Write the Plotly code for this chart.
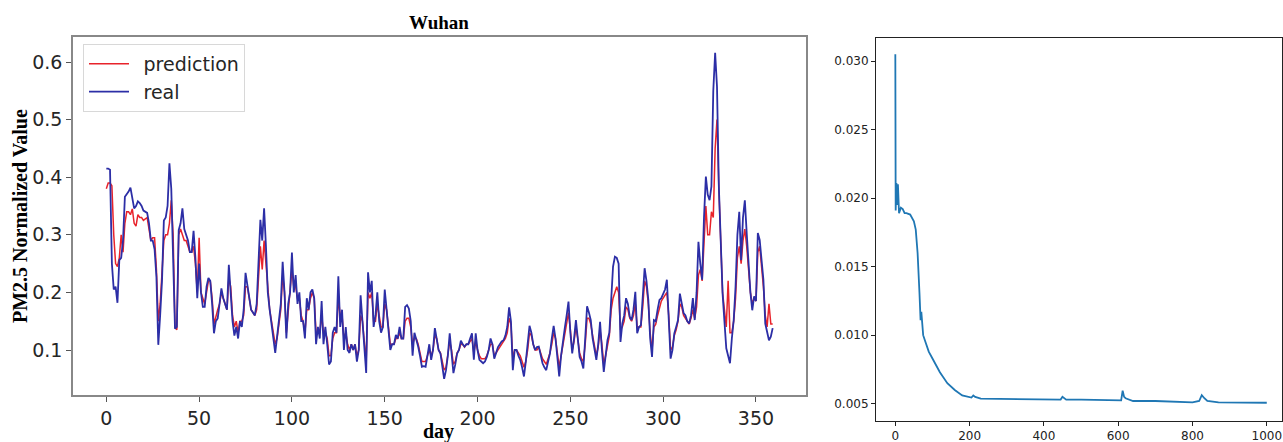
import plotly.graph_objects as go

# ---------------- data ----------------
real = [
    0.415, 0.415, 0.413, 0.25, 0.205, 0.21, 0.182, 0.256, 0.26, 0.29,
    0.366, 0.37, 0.375, 0.382, 0.36, 0.346, 0.35, 0.358, 0.355, 0.35,
    0.342, 0.34, 0.338, 0.32, 0.29, 0.29, 0.275, 0.227, 0.109, 0.16,
    0.22, 0.325, 0.33, 0.35, 0.424, 0.38, 0.27, 0.137, 0.14, 0.308,
    0.32, 0.346, 0.31, 0.3, 0.29, 0.27, 0.27, 0.307, 0.26, 0.19,
    0.25, 0.2, 0.175, 0.175, 0.21, 0.225, 0.22, 0.18, 0.129, 0.15,
    0.155, 0.18, 0.207, 0.19, 0.18, 0.17, 0.248, 0.2, 0.15, 0.125,
    0.14, 0.12, 0.15, 0.14, 0.17, 0.234, 0.21, 0.19, 0.17, 0.165,
    0.16, 0.18, 0.25, 0.326, 0.29, 0.346, 0.28, 0.2, 0.17, 0.14,
    0.12, 0.095, 0.12, 0.15, 0.18, 0.253, 0.2, 0.12, 0.18, 0.2,
    0.269, 0.2, 0.23, 0.18, 0.2, 0.15, 0.15, 0.12, 0.19, 0.17,
    0.2, 0.205, 0.19, 0.11, 0.14, 0.12, 0.185, 0.11, 0.14, 0.11,
    0.075, 0.08, 0.13, 0.14, 0.13, 0.228, 0.14, 0.17, 0.1, 0.14,
    0.1, 0.095, 0.11, 0.1, 0.11, 0.08, 0.1, 0.195, 0.15, 0.1,
    0.06, 0.235, 0.2, 0.22, 0.14, 0.16, 0.2, 0.15, 0.13, 0.14,
    0.205, 0.17, 0.13, 0.1, 0.11, 0.11, 0.126, 0.12, 0.14, 0.12,
    0.12, 0.175, 0.178, 0.172, 0.15, 0.09, 0.13, 0.12, 0.106, 0.09,
    0.071, 0.072, 0.071, 0.09, 0.11, 0.083, 0.1, 0.138, 0.12, 0.1,
    0.094, 0.07, 0.05, 0.065, 0.09, 0.129, 0.1, 0.06, 0.075, 0.094,
    0.1, 0.116, 0.11, 0.106, 0.11, 0.11, 0.12, 0.129, 0.083, 0.129,
    0.1, 0.083, 0.08, 0.077, 0.08, 0.088, 0.1, 0.12, 0.11, 0.085,
    0.095, 0.105, 0.11, 0.115, 0.117, 0.125, 0.14, 0.174, 0.15, 0.065,
    0.1, 0.1, 0.09, 0.083, 0.07, 0.054, 0.08, 0.11, 0.142, 0.13,
    0.11, 0.1, 0.105, 0.106, 0.09, 0.077, 0.07, 0.065, 0.08, 0.094,
    0.12, 0.142, 0.12, 0.08, 0.054, 0.09, 0.12, 0.138, 0.16, 0.184,
    0.13, 0.094, 0.12, 0.152, 0.12, 0.088, 0.08, 0.068, 0.12, 0.176,
    0.165, 0.152, 0.12, 0.1, 0.083, 0.11, 0.149, 0.1, 0.062, 0.09,
    0.117, 0.13, 0.2, 0.245, 0.262, 0.26, 0.25, 0.114, 0.146, 0.16,
    0.19, 0.18, 0.158, 0.152, 0.17, 0.201, 0.129, 0.14, 0.143, 0.19,
    0.242, 0.22, 0.187, 0.12, 0.088, 0.152, 0.15, 0.17, 0.187, 0.19,
    0.198, 0.205, 0.222, 0.15, 0.085, 0.1, 0.129, 0.14, 0.152, 0.198,
    0.18, 0.164, 0.16, 0.15, 0.146, 0.16, 0.19, 0.152, 0.2, 0.288,
    0.25, 0.222, 0.33, 0.401, 0.37, 0.36, 0.384, 0.55, 0.616, 0.557,
    0.384, 0.28, 0.198, 0.15, 0.103, 0.09, 0.077, 0.12, 0.152, 0.21,
    0.3, 0.34, 0.256, 0.33, 0.36, 0.303, 0.25, 0.2, 0.169, 0.193,
    0.185, 0.303, 0.291, 0.26, 0.222, 0.146, 0.13, 0.117, 0.123, 0.138,
]

prediction = [
    0.38, 0.39, 0.39, 0.385, 0.3, 0.25, 0.245, 0.26, 0.3, 0.27,
    0.32, 0.34, 0.34, 0.335, 0.345, 0.32, 0.315, 0.335, 0.33, 0.33,
    0.325, 0.328, 0.33, 0.31, 0.29, 0.295, 0.295, 0.24, 0.15, 0.18,
    0.24, 0.29, 0.3, 0.3, 0.32, 0.36, 0.3, 0.14, 0.135, 0.3,
    0.31, 0.3, 0.29, 0.29, 0.28, 0.27, 0.27, 0.28, 0.25, 0.2,
    0.295, 0.2, 0.19, 0.18, 0.2, 0.22, 0.22, 0.19, 0.145, 0.16,
    0.17, 0.18, 0.2, 0.19, 0.18, 0.17, 0.225, 0.21, 0.16, 0.14,
    0.15, 0.13, 0.15, 0.15, 0.16, 0.21, 0.21, 0.19, 0.17, 0.165,
    0.16, 0.17, 0.22, 0.28, 0.24, 0.29, 0.25, 0.2, 0.17, 0.15,
    0.13, 0.11, 0.12, 0.15, 0.17, 0.23, 0.2, 0.13, 0.17, 0.2,
    0.24, 0.21, 0.21, 0.19, 0.19, 0.16, 0.15, 0.13, 0.17, 0.17,
    0.19, 0.2, 0.19, 0.13, 0.13, 0.13, 0.16, 0.13, 0.13, 0.12,
    0.09, 0.09, 0.12, 0.13, 0.13, 0.19, 0.16, 0.16, 0.12, 0.13,
    0.11, 0.1, 0.11, 0.1, 0.11, 0.09, 0.1, 0.16, 0.15, 0.11,
    0.08, 0.2, 0.19, 0.2, 0.15, 0.15, 0.18, 0.16, 0.14, 0.14,
    0.18, 0.17, 0.14, 0.11, 0.11, 0.11, 0.12, 0.12, 0.13, 0.12,
    0.12, 0.15, 0.155, 0.155, 0.14, 0.11, 0.12, 0.12, 0.11, 0.095,
    0.08, 0.08, 0.08, 0.09, 0.1, 0.09, 0.1, 0.125, 0.12, 0.1,
    0.095, 0.08, 0.065, 0.07, 0.09, 0.115, 0.1, 0.075, 0.08, 0.095,
    0.1, 0.11, 0.11, 0.105, 0.11, 0.11, 0.115, 0.12, 0.095, 0.115,
    0.1, 0.09, 0.085, 0.085, 0.085, 0.09, 0.1, 0.11, 0.11, 0.09,
    0.095, 0.1, 0.105, 0.11, 0.115, 0.12, 0.13, 0.155, 0.145, 0.085,
    0.1, 0.1, 0.095, 0.09, 0.08, 0.07, 0.08, 0.1, 0.13, 0.125,
    0.11, 0.1, 0.1, 0.105, 0.095, 0.085, 0.08, 0.075, 0.085, 0.095,
    0.11, 0.13, 0.12, 0.09, 0.07, 0.09, 0.11, 0.13, 0.15, 0.165,
    0.135, 0.1, 0.115, 0.14, 0.12, 0.095, 0.085, 0.08, 0.11, 0.155,
    0.155, 0.145, 0.125, 0.105, 0.09, 0.105, 0.135, 0.11, 0.075, 0.09,
    0.11, 0.125, 0.17, 0.19, 0.2, 0.21, 0.2, 0.135, 0.14, 0.15,
    0.175, 0.17, 0.155, 0.15, 0.16, 0.18, 0.14, 0.14, 0.14, 0.175,
    0.22, 0.21, 0.18, 0.13, 0.1, 0.14, 0.145, 0.16, 0.175, 0.185,
    0.19, 0.195, 0.2, 0.16, 0.1, 0.105, 0.125, 0.135, 0.15, 0.18,
    0.175, 0.16, 0.155, 0.15, 0.145, 0.155, 0.17, 0.155, 0.175, 0.23,
    0.24, 0.22, 0.28, 0.35, 0.3, 0.3, 0.34, 0.33, 0.45, 0.5,
    0.38, 0.27, 0.2, 0.17, 0.14, 0.22, 0.13, 0.13, 0.15, 0.19,
    0.26, 0.28, 0.25, 0.29, 0.31, 0.28, 0.24, 0.2, 0.18, 0.19,
    0.185, 0.27, 0.28, 0.25, 0.21, 0.16, 0.14, 0.18, 0.145, 0.145,
]

days = list(range(len(real)))

loss_epoch = [0, 1, 3, 5, 7, 10, 15, 20, 25, 30, 40, 50, 55, 60, 65, 68, 70, 72,
              75, 80, 90, 100, 120, 140, 160, 180, 200, 205, 210, 215, 230, 300,
              400, 445, 450, 455, 460, 500, 600, 608, 612, 616, 620, 640, 700,
              800, 818, 825, 832, 840, 870, 900, 1000]
loss_value = [0.0305, 0.0191, 0.0211, 0.0195, 0.0210, 0.0189, 0.0193, 0.0192,
              0.0189, 0.0189, 0.0188, 0.0183, 0.0177, 0.0160, 0.0131, 0.0111,
              0.0117, 0.0111, 0.0100, 0.0096, 0.0088, 0.0083, 0.0073, 0.0065,
              0.0060, 0.0056, 0.00546, 0.00545, 0.0056, 0.0055, 0.00537,
              0.00535, 0.0053, 0.0053, 0.0055, 0.0054, 0.0053, 0.0053, 0.00525,
              0.00525, 0.00595, 0.0055, 0.0054, 0.0052, 0.0052, 0.0051, 0.0052,
              0.00563, 0.0054, 0.0052, 0.0051, 0.0051, 0.00507]

y_ticks_left = [0.1, 0.2, 0.3, 0.4, 0.5, 0.6]
x_ticks_left = [0, 50, 100, 150, 200, 250, 300, 350]
y_ticks_right = [0.005, 0.010, 0.015, 0.020, 0.025, 0.030]
x_ticks_right = [0, 200, 400, 600, 800, 1000]

# ---------------- figure ----------------
W, H = 1283, 442
fig = go.Figure()

fig.add_trace(go.Scatter(x=days, y=prediction, mode="lines",
                         name="\u2002prediction", legendgroup="a",
                         line=dict(color="#e8232b", width=1.5),
                         xaxis="x", yaxis="y"))
fig.add_trace(go.Scatter(x=days, y=real, mode="lines",
                         name="\u2002real", legendgroup="b",
                         line=dict(color="#2c2ea6", width=1.8),
                         xaxis="x", yaxis="y"))
fig.add_trace(go.Scatter(x=loss_epoch, y=loss_value, mode="lines", showlegend=False,
                         line=dict(color="#1f77b4", width=1.8),
                         xaxis="x2", yaxis="y2"))

tick_font_l = dict(family="DejaVu Sans", size=19, color="#262626")
tick_font_r = dict(family="DejaVu Sans", size=12, color="#222222")

fig.update_layout(
    width=W, height=H,
    margin=dict(l=0, r=0, t=0, b=0),
    paper_bgcolor="white", plot_bgcolor="white",
    showlegend=True,
    legend=dict(x=83 / W, y=1 - 44 / H, xanchor="left", yanchor="top",
                bgcolor="white", bordercolor="#d8d8d8", borderwidth=1,
                font=dict(family="DejaVu Sans", size=19, color="#262626"),
                tracegroupgap=0, itemwidth=40),
    title=dict(text="<b>Wuhan</b>", x=439 / W, xanchor="center",
               y=1 - 22 / H, yanchor="middle",
               font=dict(family="Liberation Serif", size=19, color="black")),
    xaxis=dict(domain=[73 / W, 806 / W], range=[-17.95, 376.95],
               tickvals=x_ticks_left, ticks="outside", ticklen=5, tickwidth=1,
               tickcolor="#555", showline=True, linecolor="#888", linewidth=1.5,
               mirror=True, showgrid=False, zeroline=False, tickfont=tick_font_l,
               anchor="y"),
    yaxis=dict(domain=[1 - 395 / H, 1 - 37 / H], range=[0.0219, 0.6434],
               tickvals=y_ticks_left, tickformat=".1f", ticks="outside", ticklen=5,
               tickwidth=1, tickcolor="#555", showline=True, linecolor="#888",
               linewidth=1.5, mirror=True, showgrid=False, zeroline=False,
               tickfont=tick_font_l, anchor="x"),
    xaxis2=dict(domain=[876 / W, 1282 / W], range=[-52, 1041],
                tickvals=x_ticks_right, ticks="outside", ticklen=4, tickwidth=1,
                tickcolor="#222", showline=True, linecolor="#222", linewidth=1,
                mirror=True, showgrid=False, zeroline=False, tickfont=tick_font_r,
                anchor="y2"),
    yaxis2=dict(domain=[1 - 421 / H, 1 - 38 / H], range=[0.00374, 0.03168],
                tickvals=y_ticks_right, tickformat=".3f", ticks="outside", ticklen=4,
                tickwidth=1, tickcolor="#222", showline=True, linecolor="#222",
                linewidth=1, mirror=True, showgrid=False, zeroline=False,
                tickfont=tick_font_r, anchor="x2"),
    annotations=[
        dict(text="<b>PM2.5 Normalized Value</b>", xref="paper", yref="paper",
             x=20 / W, y=1 - 216 / H, xanchor="center", yanchor="middle",
             textangle=-90, showarrow=False,
             font=dict(family="Liberation Serif", size=20, color="black")),
        dict(text="<b>day</b>", xref="paper", yref="paper",
             x=438 / W, y=1 - 431 / H, xanchor="center", yanchor="middle",
             showarrow=False,
             font=dict(family="Liberation Serif", size=20, color="black")),
    ],
)

fig.write_html("out.html",
               config={"displayModeBar": False},
               post_script="document.body.style.margin='0';"
                           "document.body.style.overflow='hidden';")
